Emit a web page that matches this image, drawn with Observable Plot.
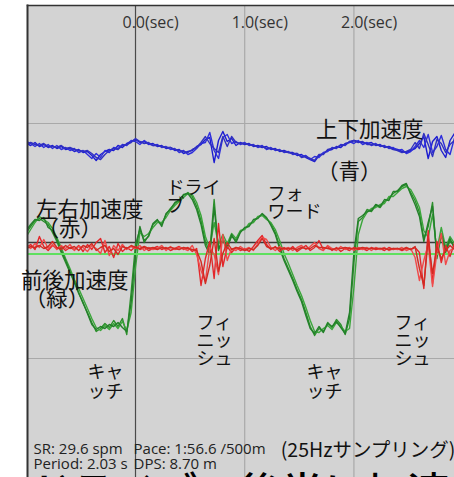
<!DOCTYPE html>
<html><head><meta charset="utf-8">
<script src="https://cdn.jsdelivr.net/npm/d3@7"></script>
<script src="https://cdn.jsdelivr.net/npm/@observablehq/plot@0.6"></script>
<style>
html,body{margin:0;padding:0;background:#fff;}
#chart{width:454px;height:477px;overflow:hidden;position:relative;}
#chart svg{display:block;}
</style></head><body><div id="chart"></div>
<script>
// Sampling: 25 Hz, first sample at -1.00 s
const RATE = 25;
const T0 = -1.0;

// Vertical acceleration (blue), three overlaid strokes
const blueA = [9.9,9.7,10.0,9.6,9.8,9.5,9.7,9.4,9.6,9.3, 9.4,9.1,9.3,9.0,9.1,8.7,8.2,8.8,9.1,9.3, 9.2,9.7,9.5,9.9,10.1,10.3,10.0,10.1,9.8,9.9, 9.6,9.7,9.4,9.5,9.2,9.3,8.9,9.1,9.2,9.6, 9.8,10.3,10.5,8.0,10.2,11.1,10.1,10.4,9.7,10.0, 9.8,9.9,9.6,9.7,9.5,9.6,9.3,9.4,9.1,9.2, 9.0,9.0,8.7,8.8,8.5,8.3,8.1,8.7,8.9,9.2, 9.3,9.6,9.5,9.9,10.0,10.2,10.1,10.0,9.9,10.0, 9.7,9.8,9.5,9.6,9.4,9.3,9.1,9.0,9.2,9.4, 9.9,10.6,8.4,10.1,10.6,9.2,8.5,10.2,10.9];
const blueB = [10.1,9.9,9.6,9.9,9.5,9.8,9.4,9.7,9.3,9.5, 9.2,9.4,9.0,9.2,8.8,8.4,8.9,8.5,9.2,9.0, 9.5,9.4,9.8,9.7,10.2,10.1,9.8,10.2,9.9,9.7, 9.8,9.5,9.6,9.3,9.4,9.0,9.2,8.8,9.0,9.4, 9.9,10.0,11.0,9.2,8.4,10.5,10.8,9.9,10.1,9.8, 10.0,9.7,9.8,9.5,9.7,9.3,9.5,9.2,9.3,9.0, 9.1,8.8,8.9,8.6,8.7,8.3,8.6,8.5,9.0,9.1, 9.5,9.4,9.8,9.7,10.1,9.9,10.2,9.8,10.0,9.7, 9.9,9.6,9.7,9.4,9.5,9.2,9.3,8.9,9.1,9.6, 10.2,9.5,10.8,9.0,9.6,10.7,9.3,8.8,10.4];
const blueC = [9.8,10.0,9.8,9.7,9.9,9.6,9.6,9.5,9.7,9.4, 9.5,9.3,9.2,9.1,9.2,8.9,8.5,8.3,8.8,9.2, 9.4,9.3,9.7,9.8,10.0,10.4,10.1,9.9,10.0,9.7, 9.7,9.6,9.5,9.5,9.3,9.2,9.1,9.0,9.3,9.5, 10.0,10.6,9.9,9.4,9.0,10.6,9.6,10.6,10.0,9.9, 9.9,9.8,9.7,9.6,9.6,9.4,9.4,9.3,9.2,9.1, 9.0,8.9,8.9,8.5,8.6,8.4,8.2,8.8,8.8,9.3, 9.4,9.5,9.7,9.8,10.1,10.2,10.0,10.1,9.8,9.8, 9.8,9.7,9.6,9.5,9.3,9.2,9.0,9.1,9.3,10.0, 9.4,10.9,9.8,8.6,10.3,9.9,9.0,9.8,10.2];

// Fore-aft acceleration (green)
const greenA = [1.0,1.6,2.2,2.4,2.1,1.8,1.0,0.1,-1.0,-2.0, -3.0,-4.0,-5.0,-6.1,-7.0,-8.0,-8.9,-8.6,-8.1,-8.5, -7.8,-8.4,-7.6,-9.2,-5.0,-0.2,1.3,0.2,0.6,1.8, 2.2,1.8,2.8,3.4,3.9,4.3,4.7,5.0,4.6,3.6, 2.2,0.1,-1.0,4.3,-0.8,0.4,-0.4,0.6,0.2,1.1, 1.4,1.7,2.1,2.5,2.8,2.4,1.9,1.0,-0.4,-1.6, -2.6,-3.6,-4.7,-5.7,-7.0,-8.4,-9.3,-8.6,-8.9,-8.0, -8.5,-7.7,-8.2,-9.2,-7.6,-2.0,2.1,2.5,3.3,3.1, 3.7,3.5,4.1,4.4,4.9,5.2,5.6,5.8,5.0,4.2, 3.0,0.4,1.6,4.0,-1.6,0.8,-1.0,0.2,-0.4];
const greenB = [0.6,1.3,2.0,2.6,2.3,2.0,1.4,0.5,-0.5,-1.6, -2.6,-3.7,-4.6,-5.6,-6.6,-7.6,-8.5,-8.8,-8.3,-8.7, -8.1,-8.6,-7.9,-8.8,-7.0,-2.5,1.0,0.6,0.9,1.5, 2.0,2.0,2.5,3.2,3.7,4.1,4.5,4.9,4.8,4.0, 2.7,0.6,-0.6,2.0,-0.2,0.8,-0.1,0.9,0.4,1.2, 1.3,1.9,2.0,2.6,2.7,2.3,2.0,1.3,0.2,-1.1, -2.1,-3.2,-4.3,-5.3,-6.5,-7.8,-8.9,-9.0,-8.6,-8.3, -8.7,-8.0,-8.4,-8.9,-8.6,-4.5,0.8,2.3,3.0,3.4, 3.5,3.8,3.9,4.6,4.6,5.0,5.4,5.6,5.3,4.5, 3.5,1.2,0.5,2.8,-0.8,1.5,-0.5,0.6,-0.1];
const greenC = [1.2,1.8,2.3,2.2,2.5,1.5,1.2,0.3,-0.8,-1.8, -2.9,-3.9,-5.1,-6.0,-7.1,-8.2,-8.7,-8.4,-8.6,-8.2, -8.4,-8.0,-8.5,-8.9,-6.0,-1.0,1.6,0.0,0.7,1.9, 2.3,1.6,2.9,3.3,4.0,4.2,4.8,4.9,4.3,3.3, 1.8,-0.3,-1.2,3.5,-0.6,0.2,-0.6,0.8,0.0,1.0, 1.5,1.6,2.3,2.4,2.9,2.5,1.7,0.8,-0.6,-1.8, -2.8,-3.8,-4.9,-5.9,-7.3,-8.6,-9.1,-8.4,-9.0,-8.1, -8.4,-7.9,-8.5,-9.1,-7.0,-1.0,2.4,2.7,3.1,3.2, 3.8,3.6,4.3,4.2,5.1,5.1,5.7,5.9,4.8,3.8, 2.6,0.1,2.0,3.6,-1.3,0.9,-0.8,0.4,-0.6];

// Lateral acceleration (red)
const redA = [-0.5,-0.2,-0.7,0.6,-0.4,-0.8,-0.3,-0.6,-0.4,-0.8, -0.5,-0.7,-0.3,-0.9,-0.2,-0.7,0.0,0.4,-1.0,-0.4, -1.5,-0.1,-0.9,-0.5,-0.8,-0.4,-0.7,-0.5,-0.8,-0.6, -0.4,-0.7,-0.5,-0.8,-0.6,-0.4,-0.7,-0.5,-0.9,-0.6, -4.3,-1.6,0.1,-3.6,1.9,-2.4,-0.4,-1.0,-0.5,-0.8, -0.6,-0.9,-0.4,0.2,0.7,-0.2,-0.7,-0.4,-0.9,-0.5, -0.8,-0.4,-0.9,-0.6,-0.3,-0.8,-0.5,0.2,-0.7,-0.4, -0.8,-0.5,-0.9,-0.6,-0.8,-0.5,-0.7,-0.6,-0.8,-0.5, -0.7,-0.6,-0.8,-0.5,-0.7,-0.6,-0.8,-0.6,-0.7,-0.5, -1.0,-4.6,1.2,-4.1,0.1,-2.0,-0.3,-1.4,-0.1];
const redB = [-0.3,-0.6,-0.1,-0.5,0.3,-0.6,-0.2,-0.7,-0.3,-0.6, -0.2,-0.8,-0.4,-0.5,-0.9,-0.3,-0.6,-1.1,0.2,-1.3, -0.3,-0.8,-0.2,-0.7,-0.4,-0.6,-0.3,-0.8,-0.5,-0.7, -0.6,-0.3,-0.8,-0.4,-0.7,-0.5,-0.6,-0.8,-0.3,-1.2, -2.8,-3.9,-0.5,-1.2,-3.2,0.8,-1.8,-0.6,-0.8,-0.4, -0.7,-0.5,-0.8,-0.1,0.5,0.3,-0.5,-0.8,-0.4,-0.7, -0.5,-0.8,-0.5,-0.3,-0.7,-0.4,0.0,-0.6,-0.8,-0.3, -0.6,-0.8,-0.4,-0.7,-0.5,-0.8,-0.5,-0.7,-0.5,-0.8, -0.5,-0.7,-0.5,-0.8,-0.6,-0.7,-0.5,-0.8,-0.6,-1.5, -3.8,-1.8,-0.2,-4.4,-1.0,0.9,-2.2,-0.8,-0.5];
const redC = [-0.6,-0.4,-0.5,-0.3,-0.6,-0.4,0.1,-0.5,-0.7,-0.3, -0.6,-0.4,-0.8,-0.3,-0.5,-0.1,-0.8,-0.5,-0.3,-0.9, -0.6,-1.2,-0.4,-0.6,-0.3,-0.5,-0.6,-0.4,-0.6,-0.5, -0.7,-0.5,-0.6,-0.5,-0.6,-0.7,-0.5,-0.6,-0.7,-0.8, -1.9,-4.1,-2.3,0.4,-2.9,-1.1,0.0,-0.7,-0.5,-0.6, -0.8,-0.6,-0.7,-0.3,0.4,-0.4,-0.6,-0.5,-0.6,-0.6, -0.6,-0.6,-0.7,-0.5,-0.6,-0.6,-0.3,-0.5,-0.5,-0.6, -0.7,-0.6,-0.6,-0.5,-0.6,-0.6,-0.6,-0.5,-0.6,-0.6, -0.6,-0.6,-0.6,-0.7,-0.6,-0.6,-0.7,-0.5,-0.7,-0.4, -2.6,-4.3,0.3,-3.1,-0.4,-1.6,-0.8,-0.3,-0.7];

// Axis / reference values
const timeTicks = [0, 1, 2];
const gridLevels = [11.9, -11.6];
const greenZero = -1.15;

// Annotations (text, time in s, accel value)
const seriesLabels = [
  {text: "上下加速度", t: 1.652, v: 10.6},
  {text: "（青）", t: 1.662, v: 6.4},
  {text: "左右加速度", t: -0.912, v: 2.6},
  {text: "（赤）", t: -0.898, v: 0.7},
  {text: "前後加速度", t: -1.048, v: -4.5},
  {text: "（緑）", t: -1.014, v: -6.3}
];
const phaseLabels = [
  {text: "ドライ\nブ", t: 0.284, v: 3.1},
  {text: "フォ\nワード", t: 1.209, v: 2.5},
  {text: "フィ\nニッ\nシュ", t: 0.559, v: -12.2},
  {text: "フィ\nニッ\nシュ", t: 2.372, v: -12.2}
];
const catchLabels = [
  {text: "キャ\nッチ", t: -0.44, v: -15.5},
  {text: "キャ\nッチ", t: 1.566, v: -15.5}
];
const statLabels = [
  {text: "SR: 29.6 spm", t: -0.934, v: -21.1},
  {text: "Pace: 1:56.6 /500m", t: -0.018, v: -21.1},
  {text: "Period: 2.03 s", t: -0.934, v: -22.6},
  {text: "DPS: 8.70 m", t: -0.018, v: -22.6}
];
const rateLabel = [{text: "(25Hzサンプリング)", t: 1.33, v: -21.4}];
const caption = [{text: "ドライブの後半に加速", t: -0.971, v: -26.5}];

const toRows = vals => vals.map((v, i) => ({t: T0 + i / RATE, v}));

const styles = {
  green: ["#2b8f2b", "#3aa63a", "#23802a"],
  red: ["#e3262a", "#f04a4a", "#d22a22"],
  blue: ["#1c1cd0", "#2e2edc", "#3030c0"]
};
const jp = "Noto Sans CJK JP";
const lat = "Open Sans";

const lineMarks = (arrs, cols) => arrs.map((a, k) =>
  Plot.line(toRows(a), {x: "t", y: "v", stroke: cols[k], strokeWidth: 1.4, clip: true}));

const plot = Plot.plot({
  width: 454, height: 477,
  marginLeft: 27, marginRight: 0, marginTop: 5, marginBottom: 0,
  style: {background: "transparent"},
  x: {domain: [-0.989, 2.921], axis: null},
  y: {domain: [-23.5, 23.7], axis: null},
  marks: [
    Plot.frame({fill: "#d3d3d3", stroke: null}),
    Plot.ruleY(gridLevels, {stroke: "#a9a9a9", strokeWidth: 1.2}),
    Plot.ruleX(timeTicks.filter(d => d !== 0), {stroke: "#a9a9a9", strokeWidth: 1.2}),
    Plot.ruleX([0], {stroke: "#4a4a4a", strokeWidth: 1.2}),
    Plot.ruleY([0], {stroke: "#3a3a3a", strokeWidth: 1.3}),
    ...lineMarks([greenA, greenB, greenC], styles.green),
    Plot.ruleY([greenZero], {stroke: "#5fe05f", strokeWidth: 2}),
    ...lineMarks([redA, redB, redC], styles.red),
    ...lineMarks([blueA, blueB, blueC], styles.blue),
    Plot.frame({anchor: "left", stroke: "#333", strokeWidth: 2}),
    Plot.frame({anchor: "top", stroke: "#333", strokeWidth: 1.5}),
    Plot.axisX(timeTicks, {anchor: "top", tickSize: 0, tickPadding: -22, dx: -13, textAnchor: "start",
      tickFormat: d => `${d.toFixed(1)}(sec)`, fontSize: 16, fontFamily: lat, fill: "#333", label: null}),
    Plot.text(seriesLabels, {x: "t", y: "v", text: "text", textAnchor: "start", lineAnchor: "bottom",
      fontSize: 21.5, fontFamily: jp, fill: "#111"}),
    Plot.text(phaseLabels, {x: "t", y: "v", text: "text", textAnchor: "start", lineAnchor: "bottom",
      fontSize: 18, lineHeight: 1, fontFamily: jp, fill: "#111"}),
    Plot.text(catchLabels, {x: "t", y: "v", text: "text", textAnchor: "start", lineAnchor: "bottom",
      fontSize: 18, lineHeight: 1.1, fontFamily: jp, fill: "#111"}),
    Plot.text(statLabels, {x: "t", y: "v", text: "text", textAnchor: "start", lineAnchor: "bottom",
      fontSize: 15, fontFamily: lat, fill: "#222"}),
    Plot.text(rateLabel, {x: "t", y: "v", text: "text", textAnchor: "start", lineAnchor: "bottom",
      fontSize: 19.5, fontFamily: jp, fill: "#111"}),
    Plot.text(caption, {x: "t", y: "v", text: "text", textAnchor: "start", lineAnchor: "bottom",
      fontSize: 42, fontWeight: 500, fontFamily: jp, fill: "#000"})
  ]
});
document.getElementById("chart").appendChild(plot);
</script></body></html>
